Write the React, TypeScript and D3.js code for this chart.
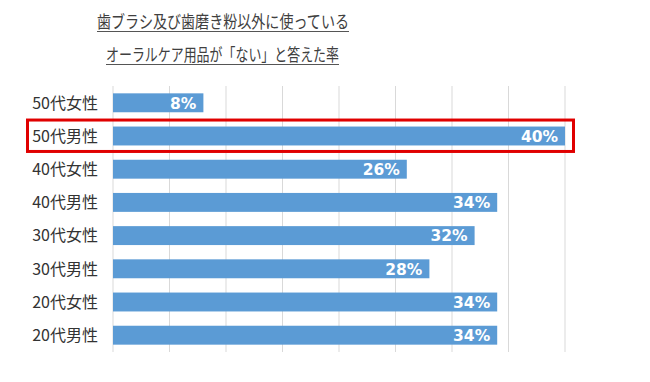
import React from "react";
import * as d3 from "d3";

const categories = ["50代女性", "50代男性", "40代女性", "40代男性", "30代女性", "30代男性", "20代女性", "20代男性"];
const values = [8, 40, 26, 34, 32, 28, 34, 34];
const gridTicks = [0, 5, 10, 15, 20, 25, 30, 35, 40];
const titleLines = ["歯ブラシ及び歯磨き粉以外に使っている", "オーラルケア用品が「ない」と答えた率"];
const highlighted = "50代男性";

export default function App() {
  const W = 650, H = 382;
  const x = d3.scaleLinear().domain([0, 40]).range([113, 565]);
  const y = d3.scaleBand<string>().domain(categories).range([86.2, 351.8]).paddingInner(0.43).paddingOuter(0.215);
  const font = "'Noto Sans CJK JP', 'Noto Sans', sans-serif";
  const hb = y(highlighted)!;
  return (
    <svg width={W} height={H} style={{ position: "absolute", left: 0, top: 0, background: "#fff" }}>
      <rect width={W} height={H} fill="#fff" />
      {titleLines.map((t, i) => {
        const cy = i === 0 ? 28 : 61;
        const x0 = i === 0 ? 97 : 106;
        const len = i === 0 ? 252 : 233;
        return (
          <g key={i}>
            <text x={x0} y={cy} fontFamily={font} fontSize={17.5} fill="#404040" textLength={len} lengthAdjust="spacingAndGlyphs">{t}</text>
            <line x1={x0} x2={x0 + len} y1={cy + 3.5} y2={cy + 3.5} stroke="#555" strokeWidth={1} />
          </g>
        );
      })}
      {gridTicks.map((t) => (
        <line key={t} x1={x(t)} x2={x(t)} y1={86} y2={352} stroke="#d9d9d9" strokeWidth={1} />
      ))}
      {categories.map((c, i) => (
        <g key={c}>
          <rect x={x(0)} y={y(c)!} width={x(values[i]) - x(0)} height={y.bandwidth()} fill="#5b9bd5" />
          <text x={x(values[i]) - 7} y={y(c)! + y.bandwidth() / 2} dy="0.37em" textAnchor="end" fontFamily="'DejaVu Sans', sans-serif" fontWeight="bold" fontSize={15.5} fill="#fff">{values[i]}%</text>
          <text x={98} y={y(c)! + y.bandwidth() / 2} dy="0.36em" textAnchor="end" fontFamily={font} fontSize={16} fill="#333">{c}</text>
        </g>
      ))}
      <rect x={27.5} y={hb - 6.5} width={546} height={y.bandwidth() + 12.5} fill="none" stroke="#e00000" strokeWidth={3} />
    </svg>
  );
}
